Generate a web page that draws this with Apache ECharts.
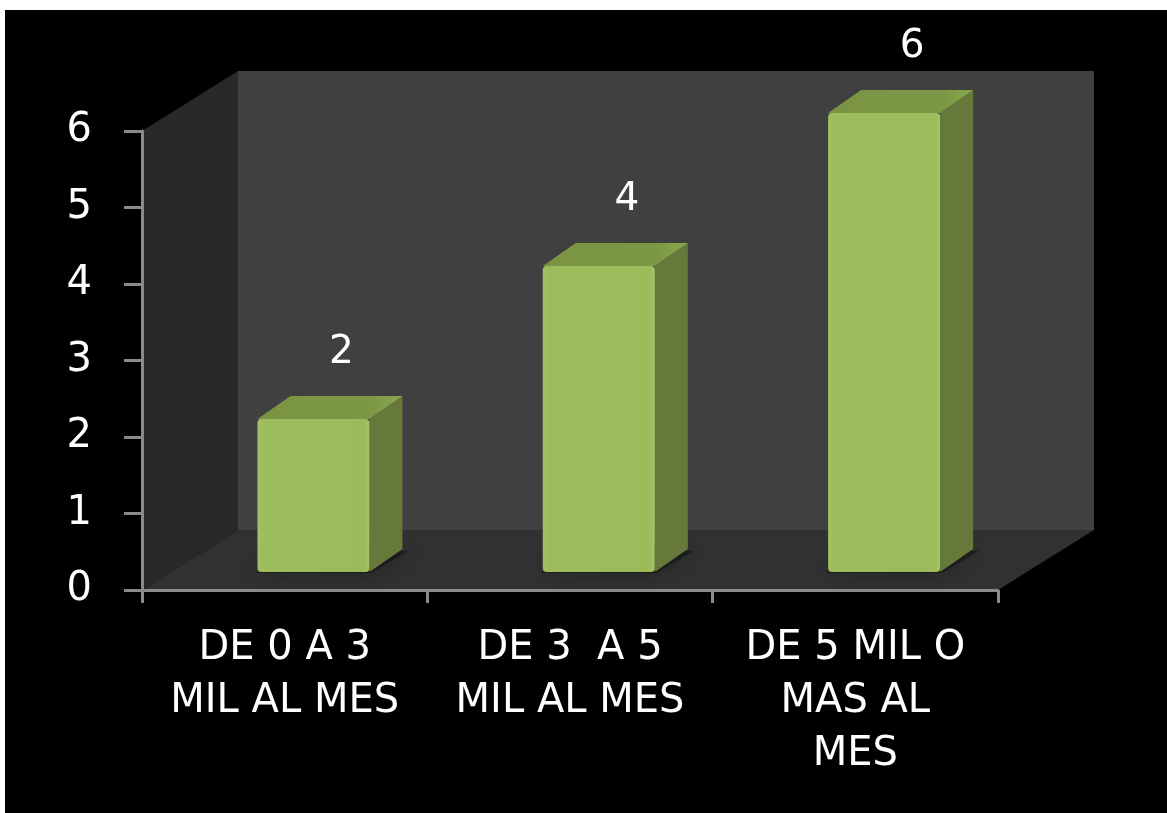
<!DOCTYPE html>
<html>
<head>
<meta charset="utf-8">
<title>Ingreso mensual</title>
<script src="https://cdn.jsdelivr.net/npm/echarts@6/dist/echarts.min.js"></script>
<style>
  html, body { margin: 0; padding: 0; background: #000000; overflow: hidden; }
  #chart { width: 1167px; height: 813px; }
</style>
</head>
<body>
<div id="chart"></div>
<script>
// Categories, values and axis ticks
const categories = ['DE 0 A 3\nMIL AL MES', 'DE 3  A 5\nMIL AL MES', 'DE 5 MIL O\nMAS AL\nMES'];
const values = [2, 4, 6];
const yMin = 0;
const yMax = 6;
const yStep = 1;

// Depth of the 3D box (offset from front plane to back wall)
const DEPTH_X = 96;
const DEPTH_Y = -60;
// Bar placement inside the box
const BAR_FRONT = 0.3;        // fraction of the depth where the bar's front face sits
const BAR_HALF = 56;          // half width of the front face
const BAR_DX = 33, BAR_DY = -23; // depth of a bar

const FONT = '"DejaVu Sans", sans-serif';

const chart = echarts.init(document.getElementById('chart'), null, { renderer: 'canvas' });

function renderWalls(params, api) {
  const cs = params.coordSys;
  const x0 = cs.x, x1 = cs.x + cs.width;
  const yt = cs.y, yb = cs.y + cs.height;
  const dx = DEPTH_X, dy = DEPTH_Y;
  return {
    type: 'group',
    children: [
      { // back wall
        type: 'polygon',
        shape: { points: [[x0 + dx, yt + dy], [x1 + dx, yt + dy], [x1 + dx, yb + dy], [x0 + dx, yb + dy]] },
        style: { fill: '#404040' }
      },
      { // side wall
        type: 'polygon',
        shape: { points: [[x0, yt], [x0 + dx, yt + dy], [x0 + dx, yb + dy], [x0, yb]] },
        style: { fill: '#292929' }
      },
      { // floor
        type: 'polygon',
        shape: { points: [[x0, yb], [x0 + dx, yb + dy], [x1 + dx, yb + dy], [x1, yb]] },
        style: { fill: '#313131' }
      }
    ]
  };
}

function renderBar(params, api) {
  const idx = api.value(0);
  const val = api.value(1);
  const base = api.coord([idx, 0]);
  const top = api.coord([idx, val]);
  const ox = DEPTH_X * BAR_FRONT, oy = DEPTH_Y * BAR_FRONT;
  const cx = base[0] + ox;
  const xl = cx - BAR_HALF, xr = cx + BAR_HALF;
  const yb = base[1] + oy, yt = top[1] + oy;
  return {
    type: 'group',
    children: [
      { // soft floor shadow around the base
        type: 'polygon',
        shape: { points: [[xl - 2, yb + 1], [xr + 2, yb + 1], [xr + BAR_DX + 6, yb + BAR_DY + 2], [xl + BAR_DX, yb + BAR_DY]] },
        style: { fill: 'rgba(0,0,0,0.35)', shadowBlur: 20, shadowColor: 'rgba(0,0,0,0.8)' }
      },
      { // side face
        type: 'polygon',
        shape: { points: [[xr, yt], [xr + BAR_DX, yt + BAR_DY], [xr + BAR_DX, yb + BAR_DY], [xr, yb]] },
        style: { fill: '#66793a' }
      },
      { // top face
        type: 'polygon',
        shape: { points: [[xl, yt], [xr, yt], [xr + BAR_DX, yt + BAR_DY], [xl + BAR_DX, yt + BAR_DY]] },
        style: {
          fill: new echarts.graphic.LinearGradient(0, 0, 1, 0, [
            { offset: 0, color: '#7a9444' },
            { offset: 0.8, color: '#7c9846' },
            { offset: 1, color: '#8aa84f' }
          ])
        }
      },
      { // front face
        type: 'rect',
        shape: { x: xl, y: yt, width: xr - xl, height: yb - yt, r: 4 },
        style: {
          fill: new echarts.graphic.LinearGradient(0, 0, 1, 0, [
            { offset: 0, color: '#a3c262' },
            { offset: 0.05, color: '#9dbc5b' },
            { offset: 0.95, color: '#9cbb5a' },
            { offset: 1, color: '#a5c465' }
          ])
        }
      },
      { // value label
        type: 'text',
        x: cx + 28,
        y: yt + BAR_DY - 43,
        style: {
          text: String(val),
          fill: '#ffffff',
          font: '39px ' + FONT,
          align: 'center',
          verticalAlign: 'middle'
        }
      }
    ]
  };
}

const option = {
  backgroundColor: '#000000',
  animation: false,
  grid: { left: 142, top: 131, width: 856, height: 459, containLabel: false },
  xAxis: {
    type: 'category',
    data: categories,
    boundaryGap: true,
    z: 10,
    axisLine: { show: true, lineStyle: { color: '#8a8a8a', width: 3 } },
    axisTick: { show: true, length: 13, lineStyle: { color: '#8a8a8a', width: 3 } },
    axisLabel: {
      interval: 0,
      margin: 32,
      color: '#ffffff',
      fontFamily: FONT,
      fontSize: 40,
      lineHeight: 53,
      align: 'center'
    },
    splitLine: { show: false }
  },
  yAxis: {
    type: 'value',
    min: yMin,
    max: yMax,
    interval: yStep,
    z: 10,
    axisLine: { show: true, lineStyle: { color: '#8a8a8a', width: 3 } },
    axisTick: { show: true, length: 18, lineStyle: { color: '#8a8a8a', width: 3 } },
    axisLabel: {
      margin: 50,
      color: '#ffffff',
      fontFamily: FONT,
      fontSize: 40,
      padding: [8, 0, 0, 0]
    },
    splitLine: { show: false }
  },
  graphic: [
    { type: 'rect', left: 0, top: 0, shape: { width: 1167, height: 10 }, style: { fill: '#ffffff' }, z: 100 },
    { type: 'rect', left: 0, top: 0, shape: { width: 5, height: 813 }, style: { fill: '#ffffff' }, z: 100 }
  ],
  series: [
    {
      type: 'custom',
      z: 1,
      silent: true,
      renderItem: renderWalls,
      data: [[0, 0]]
    },
    {
      type: 'custom',
      z: 3,
      renderItem: renderBar,
      encode: { x: 0, y: 1 },
      data: values.map((v, i) => [i, v])
    }
  ]
};

chart.setOption(option);
</script>
</body>
</html>
